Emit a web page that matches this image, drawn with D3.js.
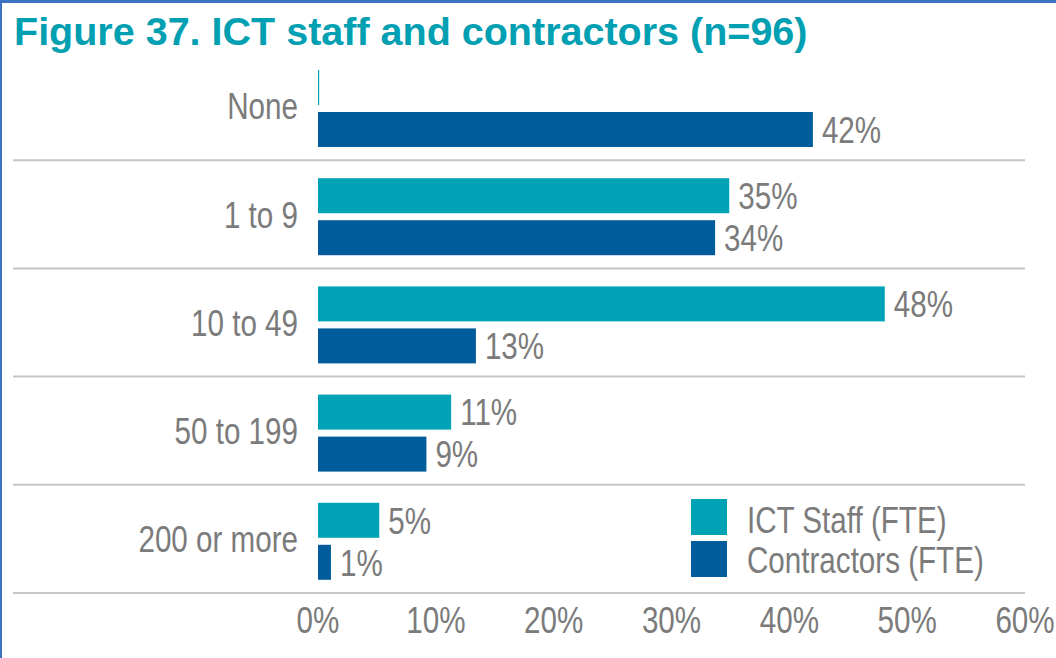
<!DOCTYPE html>
<html>
<head>
<meta charset="utf-8">
<script src="https://cdn.jsdelivr.net/npm/d3@7"></script>
<style>
  body { margin: 0; background: #fff; }
  svg { display: block; }
  .lbl { font-family: "Liberation Sans", Arial, sans-serif; font-size: 37px; fill: #7b7b7b; }
</style>
</head>
<body>
<div id="chart"></div>
<script>
    const categories = ["None", "1 to 9", "10 to 49", "50 to 199", "200 or more"]
    const seriesNames = ["ICT Staff (FTE)", "Contractors (FTE)"]
    // bar lengths (labels are the rounded values)
    const ictStaff = [0.1, 34.9, 48.1, 11.3, 5.2]
    const contractors = [42.0, 33.7, 13.4, 9.2, 1.1]
    const ictLabels = ["", "35%", "48%", "11%", "5%"]
    const contractorLabels = ["42%", "34%", "13%", "9%", "1%"]
    const xTicks = [0, 10, 20, 30, 40, 50, 60]
    const colors = ["#00a3b5", "#005c9b"]

    let width = 1056
    let height = 658
    // the source font is a condensed face, so squeeze text horizontally
    let squeeze = 0.8

    let svg = d3.select("#chart").append("svg")
        .attr("width", width)
        .attr("height", height)

    // frame (blue edge on top and left)
    svg.append("rect").attr("x", 0).attr("y", 0).attr("width", width).attr("height", 3).attr("fill", "#3b73c1")
    svg.append("rect").attr("x", 0).attr("y", 0).attr("width", 2).attr("height", height).attr("fill", "#3b73c1")

    function addText(parent, x, y, str, anchor, sx) {
        let g = parent.append("g")
            .attr("transform", "translate(" + x + "," + y + ") scale(" + sx + ",1)")
        return g.append("text")
            .attr("class", "lbl")
            .attr("text-anchor", anchor)
            .text(str)
    }

    addText(svg, 14, 45, "Figure 37. ICT staff and contractors (n=96)", "start", 1.04)
        .attr("class", null)
        .attr("fill", "#00a0b2")
        .style("font-family", "'Liberation Sans', Arial, sans-serif")
        .style("font-weight", "bold")
        .style("font-size", "38px")

    let xScale = d3.scaleLinear()
        .domain([0, 60])
        .range([318, 1025])

    let yScale = d3.scaleBand()
        .domain(categories)
        .range([52, 593])

    let inner = d3.scaleBand()
        .domain(seriesNames)
        .range([18, 95])
        .paddingInner(7 / 42)

    // separators below each row
    svg.append("g").selectAll("line")
        .data(categories)
        .enter()
        .append("line")
        .attr("x1", 13)
        .attr("x2", 1025)
        .attr("y1", d => yScale(d) + yScale.bandwidth())
        .attr("y2", d => yScale(d) + yScale.bandwidth())
        .attr("stroke", "#c6c6c6")
        .attr("stroke-width", 2)

    // category labels
    let catG = svg.append("g")
    categories.forEach(c => {
        addText(catG, 298, yScale(c) + yScale.bandwidth() / 2, c, "end", squeeze)
            .attr("dy", "0.36em")
    })

    let rows = categories.map((c, i) => [
        { cat: c, s: seriesNames[0], v: ictStaff[i], label: ictLabels[i], color: colors[0] },
        { cat: c, s: seriesNames[1], v: contractors[i], label: contractorLabels[i], color: colors[1] }
    ]).flat()

    let bars = svg.append("g")
    bars.selectAll("rect")
        .data(rows)
        .enter()
        .append("rect")
        .attr("x", xScale(0))
        .attr("y", d => yScale(d.cat) + inner(d.s))
        .attr("width", d => xScale(d.v) - xScale(0))
        .attr("height", inner.bandwidth())
        .attr("fill", d => d.color)

    rows.filter(d => d.label).forEach(d => {
        addText(bars, xScale(d.v) + 9, yScale(d.cat) + inner(d.s) + inner.bandwidth() / 2, d.label, "start", squeeze)
            .attr("dy", "0.36em")
    })

    // x axis tick labels
    let axisG = svg.append("g")
    xTicks.forEach(t => {
        addText(axisG, xScale(t), 633, t + "%", "middle", squeeze)
    })

    // legend
    let legend = svg.append("g")
    legend.selectAll("rect")
        .data(seriesNames)
        .enter()
        .append("rect")
        .attr("x", 691)
        .attr("y", (d, i) => 499 + i * 42)
        .attr("width", 36)
        .attr("height", 36)
        .attr("fill", (d, i) => colors[i])
    seriesNames.forEach((s, i) => {
        addText(legend, 747, 533 + i * 40, s, "start", squeeze)
    })
</script>
</body>
</html>
